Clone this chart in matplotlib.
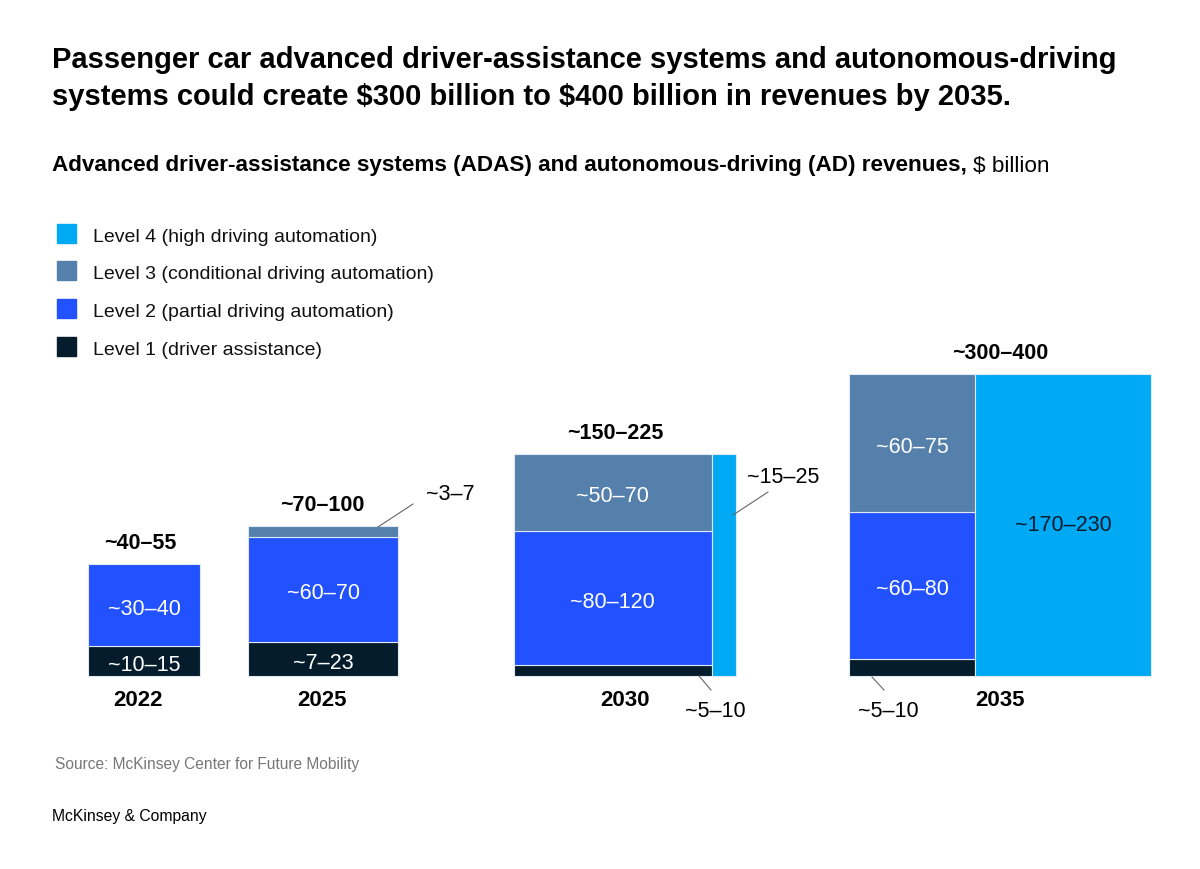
import numpy as np
import matplotlib
matplotlib.use("Agg")
import matplotlib.pyplot as plt

plt.rcParams['font.family'] = ['Liberation Sans', 'DejaVu Sans']

# values ($ billion, midpoints of the ranges)
years = ["2022", "2025", "2030", "2035"]
level1 = [12.5, 19, 8, 8]
level2 = [35, 60, 100, 70]
level3 = [0, 6, 58, 66]
level4 = [0, 0, 21, 201]
total_labels = ["~40–55", "~70–100", "~150–225", "~300–400"]
l1_labels = ["~10–15", "~7–23", "~5–10", "~5–10"]
l2_labels = ["~30–40", "~60–70", "~80–120", "~60–80"]
l3_labels = ["", "~3–7", "~50–70", "~60–75"]
l4_labels = ["", "", "~15–25", "~170–230"]
legend_names = ["Level 4 (high driving automation)",
                "Level 3 (conditional driving automation)",
                "Level 2 (partial driving automation)",
                "Level 1 (driver assistance)"]

C1, C2, C3, C4 = "#051C2C", "#2251FF", "#5480AB", "#00A9F4"
colors = [C4, C3, C2, C1]

fig = plt.figure(figsize=(12, 8.7), dpi=100)
ax = fig.add_axes([0, 0, 1, 1])
ax.set_xlim(0, 1200)
ax.set_ylim(870, 0)
ax.axis("off")

# layout (pixels)
base = 677
lefts = [88, 248, 514, 849]
k = 16.27  # px per sqrt($bn): each year is a square with area ~ total
year_x = [138, 322, 625, 1000]
total_x = [140, 322, 615, 1000]
LBL = 15.5

for i in range(len(years)):
    vals = np.array([level1[i], level2[i], level3[i]])
    total = vals.sum() + level4[i]
    side = k * np.sqrt(total)
    wmain = side * vals.sum() / total
    w4 = side * level4[i] / total
    bottom = base
    cols = [C1, C2, C3]
    labs = [l1_labels[i], l2_labels[i], l3_labels[i]]
    for j in range(3):
        h = side * vals[j] / vals.sum()
        if h <= 0:
            continue
        ax.bar(lefts[i], -h, width=wmain, bottom=bottom, align='edge',
               color=cols[j], edgecolor="#dfe9f3", linewidth=0.8)
        if h > 25 and labs[j]:
            ax.text(lefts[i] + wmain / 2, bottom - h / 2 + 3, labs[j], color="white",
                    fontsize=LBL, ha='center', va='center')
        bottom -= h
    if w4 > 0:
        ax.bar(lefts[i] + wmain, -side, width=w4, bottom=base, align='edge',
               color=C4, edgecolor="#dfe9f3", linewidth=0.8)
        if w4 > 60:
            ax.text(lefts[i] + wmain + w4 / 2, base - side / 2, l4_labels[i],
                    color=C1, fontsize=LBL, ha='center', va='center')
    top = base - side
    ax.text(total_x[i], top - 11, total_labels[i], fontsize=15.5, fontweight='bold',
            ha='center', va='bottom', color="black")
    ax.text(year_x[i], 701, years[i], fontsize=16, fontweight='bold',
            ha='center', va='center', color="black")

# callouts for thin segments
line_kw = dict(color="#666666", linewidth=0.8)
ax.plot([378, 413], [528, 505], **line_kw)
ax.text(426, 495, l3_labels[1], fontsize=LBL, ha='left', va='center')
ax.plot([733, 768], [516, 493], **line_kw)
ax.text(783, 478, l4_labels[2], fontsize=LBL, ha='center', va='center')
ax.plot([699, 711], [677, 691], **line_kw)
ax.text(715, 712, l1_labels[2], fontsize=LBL, ha='center', va='center')
ax.plot([872, 884], [678, 691], **line_kw)
ax.text(888, 712, l1_labels[3], fontsize=LBL, ha='center', va='center')

# legend
for n, (name, c) in enumerate(zip(legend_names, colors)):
    y = 234 + n * 37.7
    ax.add_patch(plt.Rectangle((57, y - 9.5), 19, 19, color=c))
    ax.text(93, y + 3, name, fontsize=14, ha='left', va='center', color="#111111")

# titles
fig.text(52 / 1200, 1 - 60 / 870,
         "Passenger car advanced driver-assistance systems and autonomous-driving",
         fontsize=21, fontweight='bold', va='center', ha='left')
fig.text(52 / 1200, 1 - 97 / 870,
         "systems could create \\$300 billion to \\$400 billion in revenues by 2035.",
         fontsize=21, fontweight='bold', va='center', ha='left')
sub = fig.text(52 / 1200, 1 - 166 / 870,
               "Advanced driver-assistance systems (ADAS) and autonomous-driving (AD) revenues,",
               fontsize=16.2, fontweight='bold', va='center', ha='left')
r = fig.canvas.get_renderer()
bb = sub.get_window_extent(renderer=r)
fig.text(bb.x1 / 1200 + 6 / 1200, 1 - 166 / 870, "\\$ billion", fontsize=16.2,
         va='center', ha='left')

fig.text(55 / 1200, 1 - 765 / 870, "Source: McKinsey Center for Future Mobility",
         fontsize=11.2, color="#777777", va='center', ha='left')
fig.text(52 / 1200, 1 - 817 / 870, "McKinsey & Company", fontsize=11.3,
         color="black", va='center', ha='left')

fig.savefig("out.png", dpi=100)
